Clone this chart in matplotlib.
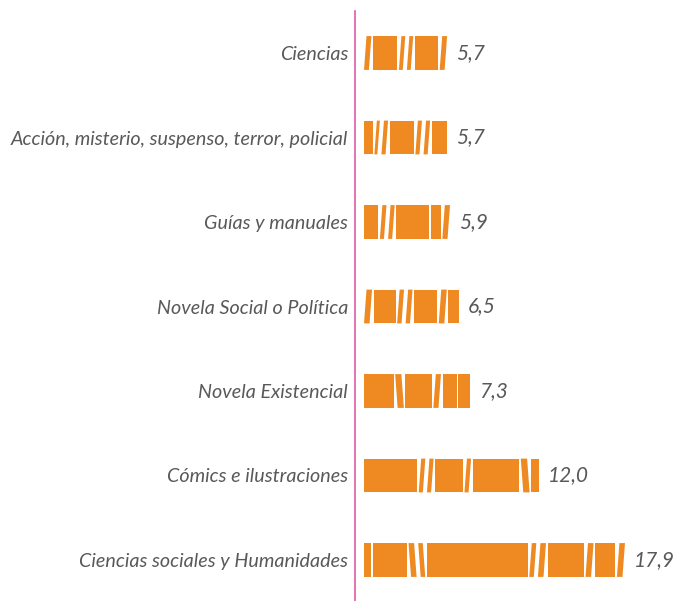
import matplotlib
matplotlib.use('Agg')
import matplotlib.pyplot as plt
from matplotlib.patches import Polygon

categories = [
    'Ciencias sociales y Humanidades',
    'Cómics e ilustraciones',
    'Novela Existencial',
    'Novela Social o Política',
    'Guías y manuales',
    'Acción, misterio, suspenso, terror, policial',
    'Ciencias',
]
values = [17.9, 12.0, 7.3, 6.5, 5.9, 5.7, 5.7]

# book pattern per bar: (tilt, relative width); tilt 1 = '/', -1 = '\', 0 = upright
books = [
    [(0, 7), (0, 34), (-1, 8), (-1, 7), (0, 100), (1, 7), (1, 8), (0, 36), (1, 8), (0, 20), (1, 8)],
    [(0, 48), (1, 6), (1, 6), (0, 25), (1, 6), (0, 42), (-1, 8), (0, 7)],
    [(0, 27), (-1, 8), (0, 24), (1, 7), (0, 13), (0, 11)],
    [(1, 7), (0, 19), (1, 6), (1, 6), (0, 20), (1, 7), (0, 9)],
    [(0, 13), (1, 6), (1, 6), (0, 30), (0, 9), (1, 7)],
    [(0, 8), (1, 5), (1, 6), (0, 22), (1, 6), (1, 6), (0, 14)],
    [(1, 7), (0, 23), (1, 6), (1, 6), (0, 22), (1, 7)],
]

bar_color = '#ee8a21'
text_color = '#595959'
plt.rcParams['font.family'] = ['Lato', 'DejaVu Sans']

fig = plt.figure(figsize=(6.77, 6.01), dpi=100)
ax = fig.add_axes([355 / 677, 0, 322 / 677, 590 / 601])

px = 14.58  # pixels per unit
gap = 1.6 / px
shift = 2.5 / px
h = 0.4

for i, (v, pattern) in enumerate(zip(values, books)):
    n = len(pattern)
    scale = (v - gap * (n - 1)) / sum(w for _, w in pattern)
    x = 0.0
    y0, y1 = i - h / 2, i + h / 2
    for tilt, w in pattern:
        x1 = x + w * scale
        if tilt == 1:
            pts = [(x, y0), (x1 - shift, y0), (x1, y1), (x + shift, y1)]
        elif tilt == -1:
            pts = [(x + shift, y0), (x1, y0), (x1 - shift, y1), (x, y1)]
        else:
            pts = [(x, y0), (x1, y0), (x1, y1), (x, y1)]
        ax.add_patch(Polygon(pts, closed=True, fc=bar_color, ec='none'))
        x = x1 + gap
    ax.text(v + 9 / px, i, f'{v:.1f}'.replace('.', ','), va='center', ha='left',
            fontsize=15, style='italic', color=text_color)

ax.set_xlim(-9 / px, 313 / px)
ax.set_ylim(-41 / 84.5, 6 + 42 / 84.5)
ax.set_yticks(range(len(categories)))
ax.set_yticklabels(categories, fontsize=14.2, style='italic', color=text_color)
ax.tick_params(axis='y', length=0, pad=5)
ax.set_xticks([])
for s in ['top', 'right', 'bottom']:
    ax.spines[s].set_visible(False)
ax.spines['left'].set_color('#e05aa5')
ax.spines['left'].set_linewidth(1.2)

fig.savefig('out.png', dpi=100)
